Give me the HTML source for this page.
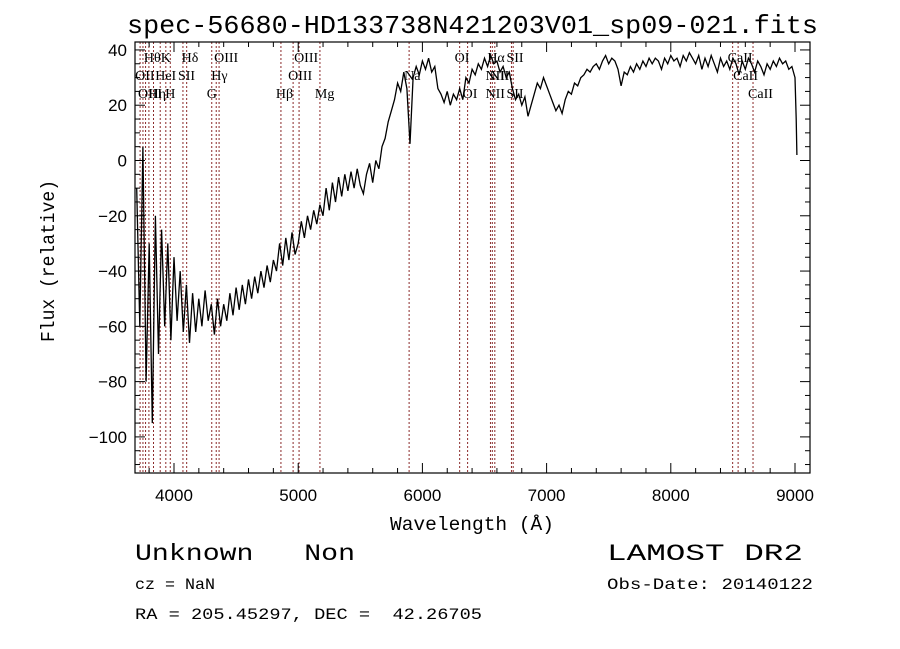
<!DOCTYPE html>
<html><head><meta charset="utf-8"><style>
html,body{margin:0;padding:0;background:#fff;width:900px;height:649px;overflow:hidden}
svg text{font-family:"Liberation Mono",monospace;fill:#000;white-space:pre}
</style></head><body>
<svg id="chart" width="900" height="649" viewBox="0 0 900 649" xmlns="http://www.w3.org/2000/svg">
<rect x="0" y="0" width="900" height="649" fill="#fff"/>
<text x="127" y="33" font-size="26" textLength="691" lengthAdjust="spacingAndGlyphs">spec-56680-HD133738N421203V01_sp09-021.fits</text>
<g id="lines"></g>
<g id="spec"></g>
<rect x="135" y="42" width="675" height="431" fill="none" stroke="#000" stroke-width="1.2"/>
<g id="axes"></g>
<text x="390" y="530" font-size="19" textLength="164" lengthAdjust="spacingAndGlyphs">Wavelength (Å)</text>
<text transform="translate(54,342) rotate(-90)" font-size="19" textLength="162" lengthAdjust="spacingAndGlyphs">Flux (relative)</text>
<text x="135" y="560" font-size="23" textLength="220" lengthAdjust="spacingAndGlyphs" xml:space="preserve">Unknown   Non</text>
<text x="135" y="589" font-size="16" textLength="80" lengthAdjust="spacingAndGlyphs">cz = NaN</text>
<text x="135" y="619" font-size="16" textLength="347" lengthAdjust="spacingAndGlyphs" xml:space="preserve">RA = 205.45297, DEC =  42.26705</text>
<text x="607" y="560" font-size="23" textLength="196" lengthAdjust="spacingAndGlyphs">LAMOST DR2</text>
<text x="607" y="589" font-size="16" textLength="206" lengthAdjust="spacingAndGlyphs">Obs-Date: 20140122</text>
</svg>
<script>
const waveStart = 3700;
const waveStep = 25;
const flux = [-10,-60,5,-80,-30,-95,-20,-70,-25,-60,-30,-65,-35,-58,-40,-62,-45,-66,-48,-62,-50,-60,-47,-58,-52,-63,-50,-60,-52,-58,-48,-56,-46,-54,-45,-52,-43,-50,-42,-48,-40,-46,-38,-44,-36,-40,-30,-38,-28,-36,-26,-34,-30,-22,-28,-20,-25,-18,-23,-16,-20,-10,-18,-8,-15,-6,-13,-5,-11,-4,-10,-3,-9,-12,-5,-1,-8,0,-3,5,8,14,18,22,28,25,32,26,6,30,34,31,36,33,37,32,34,26,24,21,25,20,24,22,26,22,30,28,33,31,35,33,37,34,38,35,36,32,34,30,32,26,22,24,20,23,16,20,24,28,26,30,27,24,21,18,20,17,22,25,24,28,27,30,31,33,32,34,35,33,36,38,35,37,36,33,27,32,31,34,32,35,33,36,34,37,35,37,36,33,37,35,38,36,37,34,38,36,39,37,35,38,33,37,34,38,35,32,37,34,36,33,37,35,31,36,33,37,35,32,36,34,31,35,33,36,34,37,35,36,33,34,30];
const tailWaves = [9010, 9015];
const tailFlux = [15, 2];
const lineWaves = [3727,3750,3771,3798,3835,3889,3934,3970,4072,4102,4304,4340,4363,4861,4959,5007,5175,5893,6300,6364,6548,6563,6583,6717,6731,8498,8542,8662];
const labelTexts = ["Hθ","K","Hδ","OIII","OIII","OI","Hα","SII","CaII","OII","HeI","SII","Hγ","OIII","Na","NII","NII","CaII","OIII","Hη","H","G","Hβ","Mg","OI","NII","SII","CaII"];
const labelWaves = [3798,3934,4102,4363,5007,6300,6563,6717,8498,3727,3889,4072,4340,4959,5893,6548,6583,8542,3750,3835,3970,4304,4861,5175,6364,6548,6717,8662];
const labelRows = [0,0,0,0,0,0,0,0,0,1,1,1,1,1,1,1,1,1,2,2,2,2,2,2,2,2,2,2];
const xTicks = [4000,5000,6000,7000,8000,9000];
const yTicks = [-100,-80,-60,-40,-20,0,20,40];

const NS = "http://www.w3.org/2000/svg";
const X = w => 174 + (w - 4000) * 0.1242;
const Y = f => 160.5 - f * 2.764;
function mk(tag, attrs, parent){const e=document.createElementNS(NS,tag);for(const k in attrs)e.setAttribute(k,attrs[k]);parent.appendChild(e);return e;}

const gl = document.getElementById('lines');
lineWaves.forEach(w=>{
  const l = mk('line',{x1:X(w),x2:X(w),y1:42,y2:473,stroke:'#8b2a2a','stroke-width':1,'stroke-dasharray':'2,2'},gl);
  
  
});
labelTexts.forEach((t,i)=>{
  const e = mk('text',{x:X(labelWaves[i])-5,y:62+labelRows[i]*18,'font-size':14,style:'font-family:"Liberation Serif",serif'},gl);
  e.textContent = t;
  
  
});

const gs = document.getElementById('spec');
let pts = flux.map((f,i)=>X(waveStart+i*waveStep).toFixed(1)+','+Y(f).toFixed(1));
tailWaves.forEach((w,i)=>pts.push(X(w).toFixed(1)+','+Y(tailFlux[i]).toFixed(1)));
const pl = mk('polyline',{points:pts.join(' '),fill:'none',stroke:'#000','stroke-width':1.3},gs);



const ga = document.getElementById('axes');
for(let w=3800; w<=9100; w+=200){
  const major = w%1000===0, len = major?10:5;
  mk('line',{x1:X(w),x2:X(w),y1:473,y2:473-len,stroke:'#000'},ga);
  mk('line',{x1:X(w),x2:X(w),y1:42,y2:42+len,stroke:'#000'},ga);
}
for(let f=-110; f<=40; f+=5){
  const major = f%20===0, len = major?10:5;
  mk('line',{x1:135,x2:135+len,y1:Y(f),y2:Y(f),stroke:'#000'},ga);
  mk('line',{x1:810,x2:810-len,y1:Y(f),y2:Y(f),stroke:'#000'},ga);
}
xTicks.forEach(w=>{
  const t = mk('text',{x:X(w),y:501,'font-size':17,'text-anchor':'middle',style:'font-family:"Liberation Sans",sans-serif'},ga);
  t.textContent = w;
  
  
});
yTicks.forEach(f=>{
  const t = mk('text',{x:127,y:Y(f)+6,'font-size':17,'text-anchor':'end',style:'font-family:"Liberation Sans",sans-serif'},ga);
  t.textContent = f===0?'0':(f<0?'\u2212'+(-f):f);
  
  
});
</script>
</body></html>
